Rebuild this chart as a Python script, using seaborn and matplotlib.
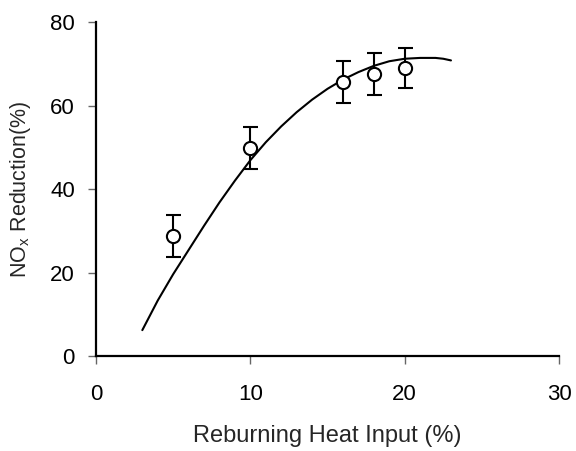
import matplotlib
matplotlib.use("Agg")
import matplotlib.pyplot as plt
import seaborn as sns
import pandas as pd

# Model curve
curve_x = [3, 4, 5, 6, 7, 8, 9, 10, 11, 12, 13, 14, 15, 16, 17, 18, 19, 20, 21, 22, 22.5, 23]
curve_y = [6.2, 13.3, 19.6, 25.4, 31.2, 36.8, 42.0, 46.9, 51.2, 55.0, 58.4, 61.4, 64.0, 66.2, 68.0, 69.5, 70.6, 71.2, 71.4, 71.4, 71.2, 70.8]

# Measured points
pt_x = [5, 10, 16, 18, 20]
pt_y = [28.7, 49.8, 65.7, 67.5, 69.0]
pt_err = [5.0, 5.0, 5.0, 5.0, 4.7]

sns.set_style("white")
plt.rcParams['font.family'] = ['Liberation Sans', 'DejaVu Sans']
plt.rcParams['mathtext.fontset'] = 'custom'
plt.rcParams['mathtext.rm'] = 'Liberation Sans'
plt.rcParams['mathtext.it'] = 'Liberation Sans'

fig = plt.figure(figsize=(5.76, 4.51), dpi=100)
ax = fig.add_axes([0.1667, 0.2106, 0.8038, 0.7406])

df_curve = pd.DataFrame({"x": curve_x, "y": curve_y})
sns.lineplot(data=df_curve, x="x", y="y", ax=ax, color="black", linewidth=1.5)

ax.errorbar(pt_x, pt_y, yerr=pt_err, fmt='none', ecolor='black', elinewidth=1.5,
            capsize=5.4, capthick=1.5, zorder=3)
df_pts = pd.DataFrame({"x": pt_x, "y": pt_y})
sns.scatterplot(data=df_pts, x="x", y="y", ax=ax, s=90, facecolor="white",
                edgecolor="black", linewidth=1.5, zorder=4)

ax.set_xlim(0, 30)
ax.set_ylim(0, 80)
ax.set_xticks([0, 10, 20, 30])
ax.set_yticks([0, 20, 40, 60, 80])
for s in ["top", "right"]:
    ax.spines[s].set_visible(False)
for s in ["left", "bottom"]:
    ax.spines[s].set_color("black")
    ax.spines[s].set_linewidth(1.6)
ax.tick_params(direction="out", length=5.8, width=1, color="#666666",
               labelsize=16, labelcolor="black", bottom=True, left=True)
ax.tick_params(axis="x", pad=14)
ax.tick_params(axis="y", pad=9.5)
ax.set_xlabel("Reburning Heat Input (%)", fontsize=17, labelpad=15)
ax.set_ylabel(r"NO$_\mathrm{x}$ Reduction(%)", fontsize=15.5, labelpad=12.5)

fig.savefig("out.png", dpi=100)
